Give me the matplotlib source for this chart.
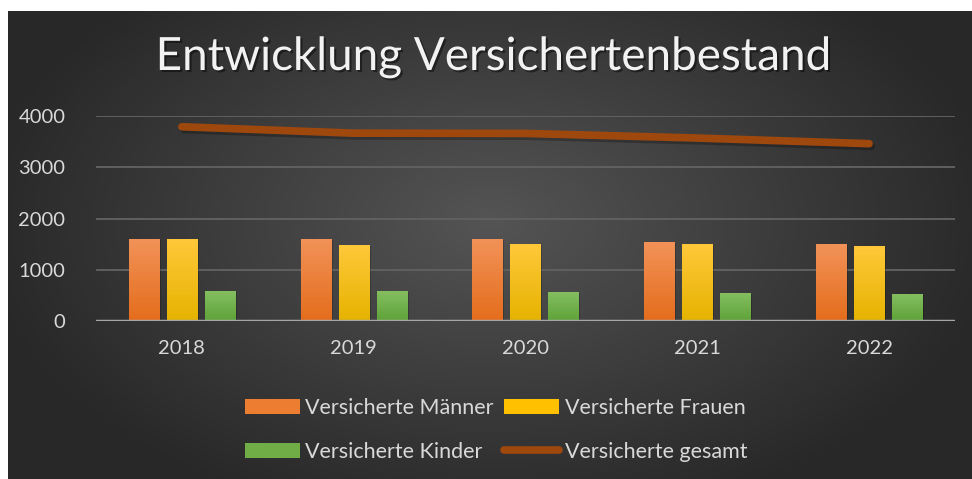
import numpy as np
import matplotlib
matplotlib.use("Agg")
import matplotlib.pyplot as plt
import matplotlib.patheffects as pe
from matplotlib.patches import Patch
from matplotlib.lines import Line2D
from matplotlib.colors import LinearSegmentedColormap

plt.rcParams["font.family"] = ["Lato", "DejaVu Sans"]

years = ["2018", "2019", "2020", "2021", "2022"]
maenner = [1600, 1600, 1600, 1540, 1500]
frauen = [1600, 1480, 1495, 1495, 1455]
kinder = [580, 572, 560, 527, 520]
gesamt = [3790, 3665, 3660, 3570, 3460]

# label, values, top colour, bottom colour, legend colour
series = [
    ("Versicherte Männer", maenner, "#f29258", "#e46d1c", "#ed7d31"),
    ("Versicherte Frauen", frauen, "#ffc83a", "#e6b300", "#ffc000"),
    ("Versicherte Kinder", kinder, "#84be60", "#5fa238", "#70ad47"),
]
line_color = "#9e480e"
text_color = "#d9d9d9"

fig = plt.figure(figsize=(9.72, 4.79), dpi=100, facecolor="white")

# dark panel with radial gradient
bg = fig.add_axes([8 / 972, 0, 964 / 972, 468 / 479])
bg.set_axis_off()
gx, gy = np.meshgrid(np.linspace(-1, 1, 400), np.linspace(-1, 1, 200))
r = np.sqrt((gx / 1.05) ** 2 + ((gy + 0.1) / 1.3) ** 2)
shade = np.clip(0.33 - 0.17 * r, 0.16, 0.33)
bg.imshow(np.dstack([shade] * 3), extent=[0, 1, 0, 1], aspect="auto", origin="upper")
bg.set_xlim(0, 1)
bg.set_ylim(0, 1)

ax = fig.add_axes([96 / 972, (479 - 321) / 479, 859 / 972, 205 / 479])
ax.patch.set_alpha(0)
x = np.arange(len(years))
offsets = [-0.221, 0.0, 0.221]
width = 0.176

grad = np.linspace(0, 1, 100).reshape(-1, 1)
for (label, vals, top, bottom, _), off in zip(series, offsets):
    cmap = LinearSegmentedColormap.from_list(label, [bottom, top])
    bars = ax.bar(x + off, vals, width, color="none", zorder=3)
    for b in bars:
        bx, bw, bh = b.get_x(), b.get_width(), b.get_height()
        # soft shadow
        ax.bar(bx + bw / 2 + 0.01, bh, bw, bottom=-15, color="black", alpha=0.2, zorder=2)
        ax.imshow(grad, cmap=cmap, extent=[bx, bx + bw, 0, bh], aspect="auto",
                  origin="lower", zorder=3)

ax.plot(x, gesamt, color=line_color, lw=5.5, solid_capstyle="round", solid_joinstyle="round",
        zorder=4, path_effects=[pe.SimpleLineShadow(offset=(1.5, -2), shadow_color="black", alpha=0.25),
                                pe.Normal()])

ax.set_xlim(-0.5, len(years) - 0.5)
ax.set_ylim(0, 4000)
ax.set_yticks([0, 1000, 2000, 3000, 4000])
ax.set_xticks(x)
ax.set_xticklabels(years)
ax.grid(axis="y", color="#606060", lw=1.4, zorder=1)
ax.axhline(0, color="#a6a6a6", lw=2.5, zorder=5)
for s in ax.spines.values():
    s.set_visible(False)
ax.tick_params(length=0, colors=text_color, labelsize=14.5)
ax.tick_params(axis="x", pad=14)
ax.tick_params(axis="y", pad=22)

fig.text(494 / 972, 1 - 57 / 479, "Entwicklung Versichertenbestand", ha="center", va="center",
         fontsize=33, color="#f2f2f2",
         path_effects=[pe.withSimplePatchShadow(offset=(1.5, -1.5), shadow_rgbFace="black", alpha=0.45)])

# order so that rows read: Männer, Frauen / Kinder, gesamt
handles = [
    Patch(facecolor=series[0][4], label=series[0][0]),
    Patch(facecolor=series[2][4], label=series[2][0]),
    Patch(facecolor=series[1][4], label=series[1][0]),
    Line2D([0], [0], color=line_color, lw=5.5, solid_capstyle="round", label="Versicherte gesamt"),
]
fig.legend(handles=handles, ncol=2, loc="center", bbox_to_anchor=(496 / 972, 1 - 430 / 479),
           frameon=False, fontsize=15.5, labelcolor=text_color, handlelength=2.55,
           handletextpad=0.25, columnspacing=0.5, labelspacing=1.1)

fig.savefig("out.png", dpi=100, facecolor="white")
